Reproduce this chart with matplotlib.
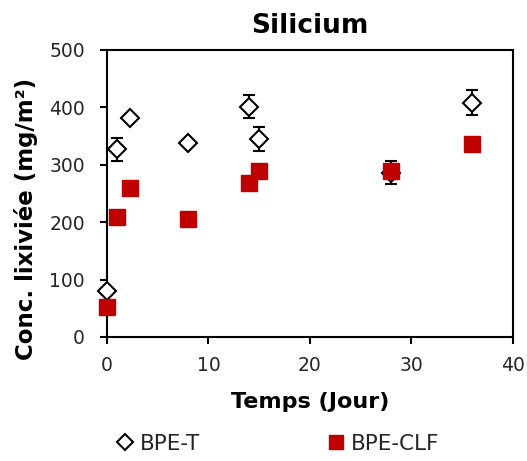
import matplotlib
matplotlib.use('Agg')
from matplotlib import pyplot
from matplotlib.lines import Line2D

# Temps (jour)
days = [0, 1, 2.3, 8, 14, 15, 28, 36]
# BPE-T, concentration et ecart-type (mg/m2)
bpe_t = [80, 327, 382, 338, 401, 345, 286, 408]
bpe_t_err = [0, 20, 0, 0, 20, 21, 20, 22]
# BPE-CLF
bpe_clf = [53, 209, 260, 206, 268, 289, 289, 336]

RED = '#C00000'


def main():
  pyplot.rcParams['font.family'] = ['DejaVu Sans']
  fig = pyplot.figure(figsize=(5.27, 4.61), dpi=100)
  ax = fig.add_axes([0.203, 0.269, 0.770, 0.623])

  ax.errorbar(days, bpe_t, yerr=bpe_t_err, fmt='none', ecolor='black',
              elinewidth=1.5, capsize=4.5, capthick=1.5, zorder=2)
  ax.plot(days, bpe_t, linestyle='none', marker='D', markersize=9.5,
          markerfacecolor='white', markeredgecolor='black',
          markeredgewidth=1.5, zorder=3, clip_on=False)
  ax.plot(days, bpe_clf, linestyle='none', marker='s', markersize=11,
          markerfacecolor=RED, markeredgecolor=RED, zorder=4, clip_on=False)

  ax.set_xlim(0, 40)
  ax.set_ylim(0, 500)
  ax.set_xticks([0, 10, 20, 30, 40])
  ax.set_yticks([0, 100, 200, 300, 400, 500])
  for side in ('left', 'bottom', 'right', 'top'):
    ax.spines[side].set_linewidth(1.5)
  ax.tick_params(direction='out', length=5, width=1.5, labelsize=13.5,
                 labelcolor='#262626')
  ax.tick_params(axis='y', pad=11)
  ax.tick_params(axis='x', pad=9)
  ax.set_title('Silicium', fontsize=19, fontweight='bold', pad=12)
  ax.set_xlabel('Temps (Jour)', fontsize=16, fontweight='bold', labelpad=12)
  ax.set_ylabel('Conc. lixiviée (mg/m²)', fontsize=16.5, fontweight='bold')
  ax.yaxis.set_label_coords(-0.170, 0.41)

  handles = [
      Line2D([], [], linestyle='none', marker='D', markersize=8,
             markerfacecolor='white', markeredgecolor='black',
             markeredgewidth=1.5),
      Line2D([], [], linestyle='none', marker='s', markersize=10,
             markerfacecolor=RED, markeredgecolor=RED),
  ]
  fig.legend(handles, ['BPE-T', 'BPE-CLF'], loc='center',
             bbox_to_anchor=(0.527, 0.037), ncol=2, frameon=False,
             fontsize=15.5, handlelength=0.8, handletextpad=0.3,
             columnspacing=5.9, labelcolor='#262626')

  fig.savefig('out.png', dpi=100)

if __name__ == '__main__':
  main()
